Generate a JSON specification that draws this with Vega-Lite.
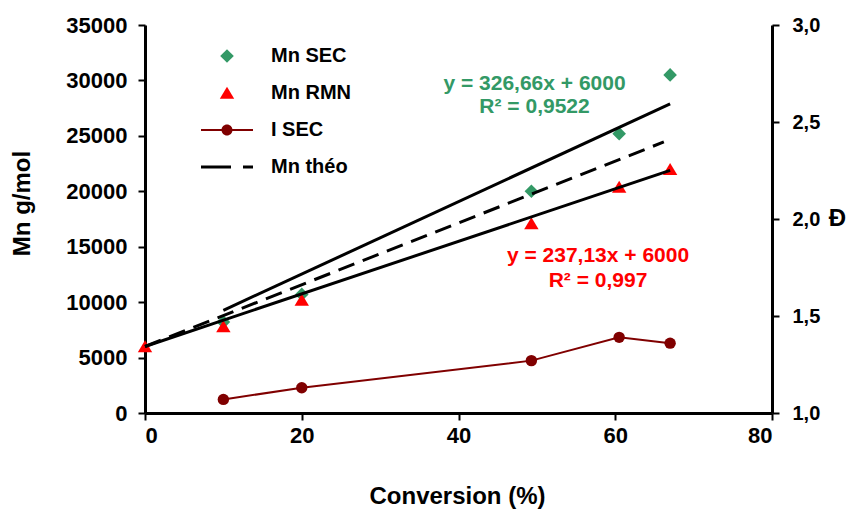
{
  "$schema": "https://vega.github.io/schema/vega-lite/v6.json",
  "width": 627,
  "height": 388,
  "autosize": {"type": "none"},
  "padding": {"left": 145, "top": 25, "right": 93, "bottom": 96},
  "background": "white",
  "config": {
    "view": {"stroke": null},
    "font": "Liberation Sans",
    "axis": {
      "grid": false,
      "labelFont": "Liberation Sans",
      "labelFontWeight": "bold",
      "labelFontSize": 22,
      "labelColor": "#000000",
      "titleFont": "Liberation Sans",
      "titleFontWeight": "bold",
      "titleFontSize": 24,
      "titleColor": "#000000",
      "domainColor": "#000000",
      "domainWidth": 3,
      "tickColor": "#000000",
      "tickWidth": 2,
      "tickSize": 7
    }
  },
  "datasets": {
    "mn": [
      {"conv": 10, "series": "Mn SEC", "mn": 8200},
      {"conv": 20, "series": "Mn SEC", "mn": 10700},
      {"conv": 49.3, "series": "Mn SEC", "mn": 20000},
      {"conv": 60.5, "series": "Mn SEC", "mn": 25200},
      {"conv": 67, "series": "Mn SEC", "mn": 30500},
      {"conv": 0, "series": "Mn RMN", "mn": 6000},
      {"conv": 10, "series": "Mn RMN", "mn": 7800},
      {"conv": 20, "series": "Mn RMN", "mn": 10200},
      {"conv": 49.3, "series": "Mn RMN", "mn": 17100},
      {"conv": 60.5, "series": "Mn RMN", "mn": 20400},
      {"conv": 67, "series": "Mn RMN", "mn": 22000}
    ],
    "fits": [
      {"fit": "SEC", "conv": 10, "mn": 9266.6},
      {"fit": "SEC", "conv": 67, "mn": 27886},
      {"fit": "RMN", "conv": 0, "mn": 6000},
      {"fit": "RMN", "conv": 67, "mn": 21888}
    ],
    "theo": [
      {"conv": 0, "mn": 6000},
      {"conv": 66.2, "mn": 24450}
    ],
    "isec": [
      {"conv": 10, "d": 1.07},
      {"conv": 20, "d": 1.13},
      {"conv": 49.3, "d": 1.27},
      {"conv": 60.5, "d": 1.39},
      {"conv": 67, "d": 1.36}
    ],
    "notes": [
      {"grp": "SEC", "conv": 49.7, "mn": 29700, "label": "y = 326,66x + 6000"},
      {"grp": "SEC", "conv": 49.7, "mn": 27600, "label": "R² = 0,9522"},
      {"grp": "RMN", "conv": 57.8, "mn": 14160, "label": "y = 237,13x + 6000"},
      {"grp": "RMN", "conv": 57.8, "mn": 11900, "label": "R² = 0,997"}
    ]
  },
  "encoding": {
    "x": {
      "field": "conv",
      "type": "quantitative",
      "scale": {"domain": [0, 80], "nice": false, "zero": false},
      "axis": {
        "values": [0, 20, 40, 60, 80],
        "title": "Conversion (%)",
        "labelPadding": 5,
        "titleX": 312,
        "titleY": 90,
        "titleAlign": "center",
        "titleBaseline": "alphabetic"
      }
    }
  },
  "layer": [
    {
      "encoding": {
        "y": {
          "field": "mn",
          "type": "quantitative",
          "scale": {"domain": [0, 35000], "nice": false, "zero": false},
          "axis": {
            "values": [0, 5000, 10000, 15000, 20000, 25000, 30000, 35000],
            "format": "d",
            "title": "Mn g/mol",
            "labelPadding": 11,
            "titleX": -116,
            "titleY": 178,
            "titleAngle": -90,
            "titleAlign": "center",
            "titleBaseline": "alphabetic"
          }
        }
      },
      "layer": [
        {
          "data": {"name": "mn"},
          "mark": {"type": "point", "filled": true, "opacity": 1, "size": 400, "strokeWidth": 0},
          "encoding": {
            "color": {
              "field": "series",
              "type": "nominal",
              "scale": {
                "domain": ["Mn SEC", "Mn RMN", "I SEC", "Mn théo"],
                "range": ["#339966", "#ff0000", "#800000", "#000000"]
              },
              "legend": {
                "title": null,
                "orient": "none",
                "legendX": 72,
                "legendY": 21,
                "padding": 0,
                "labelFont": "Liberation Sans",
                "labelFontSize": 20,
                "labelFontWeight": "bold",
                "labelColor": "#000000",
                "labelOffset": 34,
                "rowPadding": 17,
                "symbolSize": 400,
                "symbolStrokeWidth": 0,
                "symbolOpacity": 1
              }
            },
            "shape": {
              "field": "series",
              "type": "nominal",
              "scale": {
                "domain": ["Mn SEC", "Mn RMN", "I SEC", "Mn théo"],
                "range": [
                  "M0,-0.68L0.68,0L0,0.68L-0.68,0Z",
                  "M0,-0.62L0.72,0.58L-0.72,0.58Z",
                  "M-2.6,-0.1H2.6V0.1H-2.6Z M0.55,0A0.55,0.55,0,1,1,-0.55,0A0.55,0.55,0,1,1,0.55,0Z",
                  "M-2.6,-0.15H0.4V0.15H-2.6Z M1.6,-0.15H2.6V0.15H1.6Z"
                ]
              },
              "legend": {
                "title": null,
                "orient": "none",
                "legendX": 72,
                "legendY": 21,
                "padding": 0,
                "labelFont": "Liberation Sans",
                "labelFontSize": 20,
                "labelFontWeight": "bold",
                "labelColor": "#000000",
                "labelOffset": 34,
                "rowPadding": 17,
                "symbolSize": 400,
                "symbolStrokeWidth": 0,
                "symbolOpacity": 1
              }
            },
            "order": {"field": "series", "sort": "descending"}
          }
        },
        {
          "data": {"name": "fits"},
          "mark": {"type": "line", "color": "#000000", "strokeWidth": 3},
          "encoding": {"detail": {"field": "fit"}}
        },
        {
          "data": {"name": "theo"},
          "mark": {"type": "line", "color": "#000000", "strokeWidth": 3, "strokeDash": [17, 9]},
          "encoding": {}
        },
        {
          "data": {"name": "notes"},
          "transform": [{"filter": "datum.grp === 'SEC'"}],
          "mark": {"type": "text", "font": "Liberation Sans", "fontSize": 21, "fontWeight": "bold", "color": "#339966", "align": "center", "baseline": "middle"},
          "encoding": {"text": {"field": "label"}}
        },
        {
          "data": {"name": "notes"},
          "transform": [{"filter": "datum.grp === 'RMN'"}],
          "mark": {"type": "text", "font": "Liberation Sans", "fontSize": 21, "fontWeight": "bold", "color": "#ff0000", "align": "center", "baseline": "middle"},
          "encoding": {"text": {"field": "label"}}
        }
      ]
    },
    {
      "data": {"name": "isec"},
      "encoding": {
        "y": {
          "field": "d",
          "type": "quantitative",
          "scale": {"domain": [1, 3], "nice": false, "zero": false},
          "axis": {
            "orient": "right",
            "values": [1, 1.5, 2, 2.5, 3],
            "labelExpr": "replace(format(datum.value, '.1f'), '.', ',')",
            "title": "Đ",
            "labelFontSize": 20,
            "labelPadding": 13,
            "titleAngle": 0,
            "titleX": 65,
            "titleY": 193,
            "titleAlign": "center",
            "titleBaseline": "middle"
          }
        }
      },
      "layer": [
        {
          "mark": {"type": "line", "color": "#800000", "strokeWidth": 2},
          "encoding": {}
        },
        {
          "mark": {"type": "point", "shape": "circle", "filled": true, "opacity": 1, "size": 130, "color": "#800000"},
          "encoding": {}
        }
      ]
    }
  ],
  "resolve": {"scale": {"y": "independent"}}
}
